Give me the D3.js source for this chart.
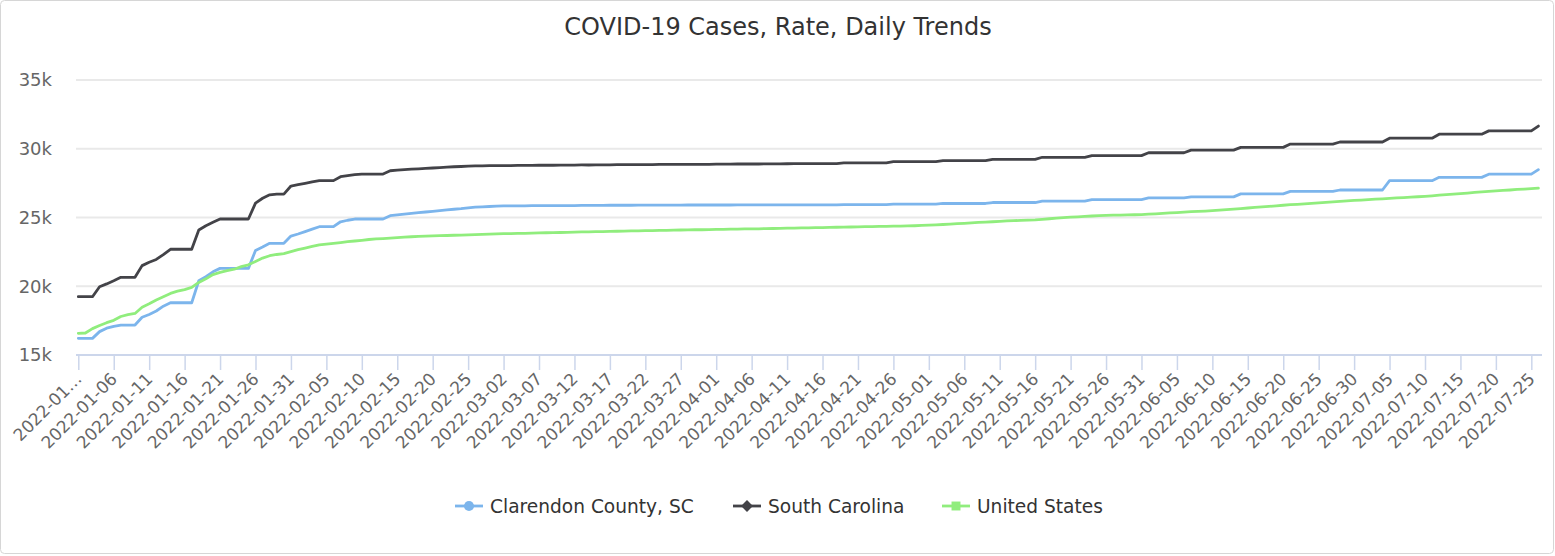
<!DOCTYPE html>
<html>
<head>
<meta charset="utf-8">
<script src="https://cdn.jsdelivr.net/npm/d3@7"></script>
<style>
  html, body { margin: 0; padding: 0; background: #fff; }
  svg { display: block; font-family: "DejaVu Sans", Verdana, sans-serif; }
</style>
</head>
<body>
<svg id="chart" width="1555" height="556"></svg>
<script>
// ---- Data -------------------------------------------------------------
const chartTitle = "COVID-19 Cases, Rate, Daily Trends";

// one category per day, 2022-01-01 .. 2022-07-26
const fmtDay = d3.utcFormat("%Y-%m-%d");
const categories = d3.utcDay.range(new Date(Date.UTC(2022, 0, 1)), new Date(Date.UTC(2022, 6, 27))).map(fmtDay);

const seriesNames = ["Clarendon County, SC", "South Carolina", "United States"];
const seriesColors = ["#7cb5ec", "#434348", "#90ed7d"];
const seriesSymbols = ["circle", "diamond", "square"];

// cumulative case rate per 100k, one row per week
const clarendonValues = [
  16210, 16210, 16210, 16700, 16950, 17080, 17180,
  17180, 17180, 17750, 17950, 18200, 18550, 18800,
  18800, 18800, 18800, 20400, 20700, 21050, 21300,
  21300, 21300, 21300, 21300, 22600, 22850, 23120,
  23120, 23120, 23650, 23800, 23970, 24150, 24330,
  24330, 24330, 24690, 24800, 24890, 24890, 24890,
  24890, 24890, 25130, 25190, 25250, 25300, 25350,
  25400, 25450, 25500, 25550, 25600, 25640, 25700,
  25750, 25780, 25800, 25820, 25840, 25850, 25850,
  25850, 25860, 25860, 25860, 25870, 25870, 25870,
  25870, 25880, 25880, 25880, 25880, 25890, 25890,
  25890, 25890, 25900, 25900, 25900, 25900, 25900,
  25900, 25900, 25910, 25910, 25910, 25910, 25910,
  25910, 25910, 25920, 25920, 25920, 25920, 25920,
  25920, 25920, 25920, 25920, 25920, 25920, 25920,
  25920, 25920, 25920, 25940, 25940, 25940, 25940,
  25940, 25940, 25940, 25970, 25970, 25970, 25970,
  25970, 25970, 25970, 26020, 26020, 26020, 26020,
  26020, 26020, 26020, 26090, 26090, 26090, 26090,
  26090, 26090, 26090, 26190, 26190, 26190, 26190,
  26190, 26190, 26190, 26300, 26300, 26300, 26300,
  26300, 26300, 26300, 26300, 26430, 26430, 26430,
  26430, 26430, 26430, 26500, 26500, 26500, 26500,
  26500, 26500, 26500, 26720, 26720, 26720, 26720,
  26720, 26720, 26720, 26900, 26900, 26900, 26900,
  26900, 26900, 26900, 27000, 27000, 27000, 27000,
  27000, 27000, 27000, 27680, 27680, 27680, 27680,
  27680, 27680, 27680, 27920, 27920, 27920, 27920,
  27920, 27920, 27920, 28150, 28150, 28150, 28150,
  28150, 28150, 28150, 28480
];

const southCarolinaValues = [
  19240, 19240, 19240, 19960, 20170, 20400, 20650,
  20650, 20650, 21500, 21750, 21950, 22300, 22690,
  22690, 22690, 22690, 24090, 24400, 24650, 24890,
  24890, 24890, 24890, 24890, 26050, 26400, 26650,
  26700, 26700, 27290, 27390, 27490, 27590, 27680,
  27680, 27680, 27970, 28050, 28120, 28160, 28160,
  28160, 28160, 28400, 28440, 28480, 28520, 28540,
  28570, 28600, 28630, 28660, 28690, 28710, 28730,
  28750, 28760, 28770, 28780, 28780, 28780, 28790,
  28790, 28790, 28800, 28800, 28800, 28810, 28810,
  28810, 28820, 28820, 28830, 28830, 28830, 28840,
  28840, 28840, 28850, 28850, 28850, 28860, 28860,
  28860, 28860, 28870, 28870, 28870, 28870, 28880,
  28880, 28880, 28890, 28890, 28890, 28890, 28900,
  28900, 28900, 28910, 28920, 28920, 28920, 28920,
  28920, 28920, 28920, 28970, 28970, 28970, 28970,
  28970, 28970, 28970, 29060, 29060, 29060, 29060,
  29060, 29060, 29060, 29130, 29130, 29130, 29130,
  29130, 29130, 29130, 29230, 29230, 29230, 29230,
  29230, 29230, 29230, 29380, 29380, 29380, 29380,
  29380, 29380, 29380, 29500, 29500, 29500, 29500,
  29500, 29500, 29500, 29500, 29710, 29710, 29710,
  29710, 29710, 29710, 29900, 29900, 29900, 29900,
  29900, 29900, 29900, 30100, 30100, 30100, 30100,
  30100, 30100, 30100, 30340, 30340, 30340, 30340,
  30340, 30340, 30340, 30490, 30490, 30490, 30490,
  30490, 30490, 30490, 30770, 30770, 30770, 30770,
  30770, 30770, 30770, 31060, 31060, 31060, 31060,
  31060, 31060, 31060, 31300, 31300, 31300, 31300,
  31300, 31300, 31300, 31650
];

const unitedStatesValues = [
  16580, 16600, 16920, 17150, 17350, 17520, 17800,
  17930, 18020, 18470, 18720, 19000, 19240, 19480,
  19640, 19760, 19920, 20280, 20540, 20850, 21010,
  21130, 21240, 21430, 21560, 21800, 22050, 22220,
  22310, 22370, 22520, 22660, 22780, 22900, 23010,
  23070, 23120, 23180, 23240, 23290, 23340, 23400,
  23440, 23470, 23500, 23540, 23580, 23600, 23630,
  23650, 23660, 23680, 23690, 23710, 23720, 23740,
  23760, 23780, 23790, 23810, 23820, 23830, 23840,
  23850, 23860, 23880, 23890, 23900, 23910, 23920,
  23940, 23950, 23960, 23970, 23980, 23990, 24000,
  24010, 24020, 24030, 24040, 24050, 24060, 24070,
  24080, 24090, 24100, 24110, 24110, 24120, 24130,
  24140, 24150, 24160, 24170, 24170, 24180, 24190,
  24200, 24210, 24220, 24230, 24240, 24250, 24260,
  24270, 24280, 24290, 24300, 24310, 24320, 24330,
  24340, 24350, 24360, 24370, 24380, 24390, 24400,
  24420, 24440, 24460, 24490, 24520, 24550, 24580,
  24610, 24640, 24660, 24690, 24720, 24750, 24770,
  24790, 24810, 24830, 24870, 24910, 24950, 24990,
  25020, 25050, 25080, 25110, 25130, 25150, 25170,
  25180, 25190, 25200, 25210, 25240, 25270, 25300,
  25330, 25360, 25390, 25420, 25440, 25470, 25500,
  25530, 25570, 25610, 25650, 25690, 25730, 25770,
  25810, 25850, 25890, 25930, 25960, 25990, 26020,
  26060, 26100, 26140, 26180, 26210, 26240, 26270,
  26300, 26330, 26360, 26390, 26420, 26450, 26480,
  26510, 26540, 26580, 26620, 26660, 26700, 26740,
  26780, 26820, 26860, 26900, 26940, 26970, 27000,
  27040, 27070, 27100, 27130
];

const yTickValues = [15000, 20000, 25000, 30000, 35000];
const yTickLabels = ["15k", "20k", "25k", "30k", "35k"];
const xTickStep = 5;

// ---- Layout -----------------------------------------------------------
const svg = d3.select("#chart");
const plot = { left: 76, right: 1542, top: 80, bottom: 355 };

// outer frame
svg.append("rect")
  .attr("x", 0.5).attr("y", 0.5)
  .attr("width", 1553).attr("height", 553)
  .attr("rx", 4)
  .attr("fill", "#fff")
  .attr("stroke", "#d6d6d6");

// title
svg.append("text")
  .attr("x", 778).attr("y", 35)
  .attr("text-anchor", "middle")
  .attr("font-size", 24)
  .attr("fill", "#333333")
  .text(chartTitle);

// ---- Scales -----------------------------------------------------------
const x = d3.scalePoint().domain(categories).range([78.3, 1538.4]);
const y = d3.scaleLinear().domain([15000, 35000]).range([plot.bottom, plot.top]);

// horizontal grid lines
svg.append("g")
  .selectAll("line")
  .data(yTickValues.slice(1))
  .join("line")
  .attr("x1", plot.left).attr("x2", plot.right)
  .attr("y1", d => y(d)).attr("y2", d => y(d))
  .attr("stroke", "#e9e9e9")
  .attr("stroke-width", 2);

// y axis labels
const yAxis = d3.axisLeft(y)
  .tickValues(yTickValues)
  .tickSize(0)
  .tickPadding(24)
  .tickFormat((d, i) => yTickLabels[i]);

const gy = svg.append("g")
  .attr("transform", `translate(${plot.left},0)`)
  .call(yAxis);
gy.select(".domain").remove();
gy.selectAll("text")
  .attr("font-family", "DejaVu Sans, Verdana, sans-serif")
  .attr("font-size", 18)
  .attr("fill", "#666666");

// x axis with rotated date labels every 5 days
const xTickValues = categories.filter((d, i) => i % xTickStep === 0);
const xAxis = d3.axisBottom(x)
  .tickValues(xTickValues)
  .tickSize(15)
  .tickSizeOuter(0)
  .tickFormat((d, i) => i === 0 ? d.slice(0, 7) + "\u2026" : d);

const gx = svg.append("g")
  .attr("transform", `translate(0,${plot.bottom})`)
  .call(xAxis);
gx.select(".domain")
  .attr("d", `M${plot.left},0H${plot.right}`)
  .attr("stroke", "#ccd6eb")
  .attr("stroke-width", 2);
gx.selectAll(".tick line")
  .attr("stroke", "#ccd6eb")
  .attr("stroke-width", 1.5);
gx.selectAll(".tick text")
  .attr("x", 0).attr("y", 0).attr("dy", 0)
  .attr("transform", "translate(4,25) rotate(-45)")
  .attr("text-anchor", "end")
  .attr("font-family", "DejaVu Sans, Verdana, sans-serif")
  .attr("font-size", 17)
  .attr("fill", "#666666");

// ---- Series lines -----------------------------------------------------
const seriesValues = [clarendonValues, southCarolinaValues, unitedStatesValues];
const series = seriesNames.map((name, i) => ({
  name,
  color: seriesColors[i],
  symbol: seriesSymbols[i],
  values: seriesValues[i]
}));

const line = d3.line()
  .x((d, i) => x(categories[i]))
  .y(d => y(d));

svg.append("g")
  .selectAll("path")
  .data(series)
  .join("path")
  .attr("d", s => line(s.values))
  .attr("fill", "none")
  .attr("stroke", s => s.color)
  .attr("stroke-width", 2.8)
  .attr("stroke-linejoin", "round")
  .attr("stroke-linecap", "round");

// ---- Legend -----------------------------------------------------------
const legendX = [469, 747, 956];
const legendY = 506;
const symbolPath = {
  circle: d3.symbol(d3.symbolCircle, 80)(),
  diamond: d3.symbol(d3.symbolDiamond2, 90)(),
  square: d3.symbol(d3.symbolSquare, 80)()
};

const legendItems = svg.append("g")
  .selectAll("g")
  .data(series)
  .join("g")
  .attr("transform", (d, i) => `translate(${legendX[i]},${legendY})`);

legendItems.append("line")
  .attr("x1", -14).attr("x2", 14)
  .attr("stroke", d => d.color)
  .attr("stroke-width", 2.8);

legendItems.append("path")
  .attr("d", d => symbolPath[d.symbol])
  .attr("fill", d => d.color);

legendItems.append("text")
  .attr("x", 21)
  .attr("dy", "0.35em")
  .attr("font-size", 18.6)
  .attr("fill", "#333333")
  .text(d => d.name);
</script>
</body>
</html>
